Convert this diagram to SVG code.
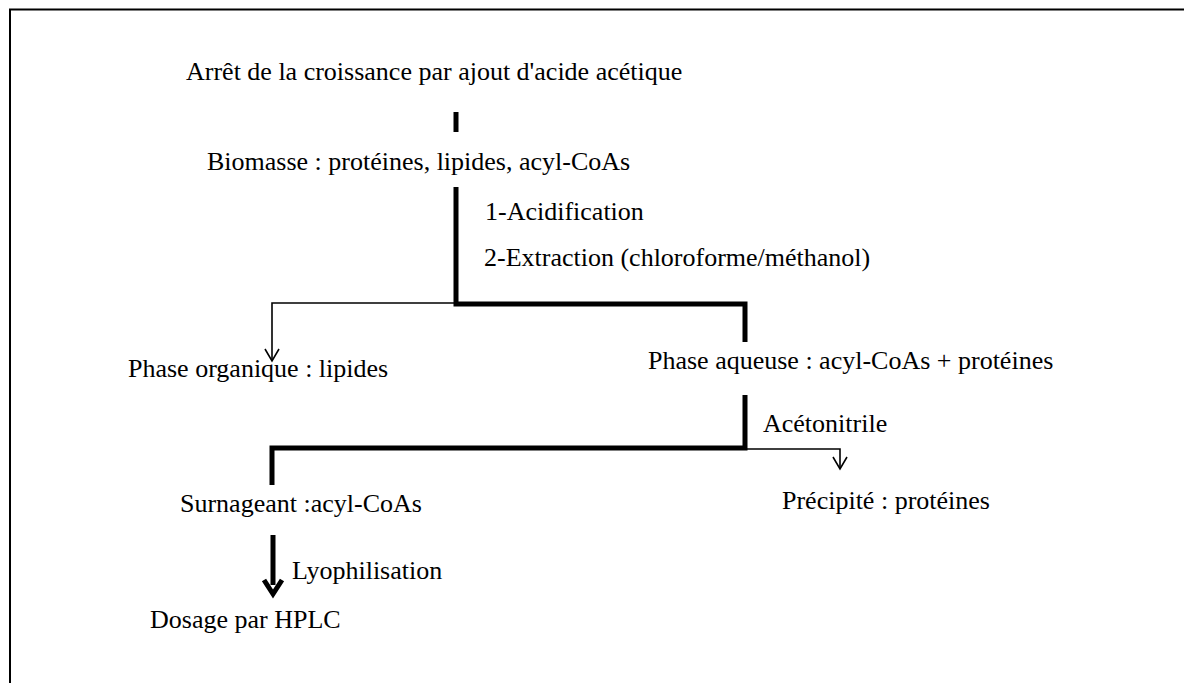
<svg xmlns="http://www.w3.org/2000/svg" width="1184" height="683" viewBox="0 0 1184 683">
<defs>
<style>
text{font-family:"Liberation Serif","Times New Roman",serif;font-size:26px;fill:#000}
.thick{fill:none;stroke:#000;stroke-width:5}
.thin{fill:none;stroke:#000;stroke-width:1.6}
</style>
<marker id="open" markerWidth="16" markerHeight="16" refX="14" refY="8" orient="auto" markerUnits="userSpaceOnUse" viewBox="0 0 16 16">
<path d="M2 1 L14 8 L2 15" fill="none" stroke="#000" stroke-width="1.6"/>
</marker>
</defs>
<rect width="1184" height="683" fill="#fff"/>
<path d="M10 683 V9.5 H1184" fill="none" stroke="#000" stroke-width="2"/>
<g id="connectors">
<line class="thick" x1="456" y1="112" x2="456" y2="132"/>
<path class="thick" d="M456 187 V304 H745 V342"/>
<path class="thin" d="M456 303 H272 V361" marker-end="url(#open)"/>
<path class="thick" d="M745 395 V448 H272 V485"/>
<path class="thin" d="M745 449 H840 V469" marker-end="url(#open)"/>
<line class="thick" x1="273" y1="535" x2="273" y2="585"/>
<path d="M264 580 L273 594 L282 580" fill="none" stroke="#000" stroke-width="5"/>
</g>
<g id="n-arret"><text x="186" y="80">Arrêt de la croissance par ajout d'acide acétique</text></g>
<g id="n-biomasse"><text x="207" y="170">Biomasse : protéines, lipides, acyl-CoAs</text></g>
<g id="l-acid"><text x="485" y="220">1-Acidification</text><text x="484" y="266">2-Extraction (chloroforme/méthanol)</text></g>
<g id="n-organique"><text x="128" y="377">Phase organique : lipides</text></g>
<g id="n-aqueuse"><text x="648" y="369">Phase aqueuse : acyl-CoAs + protéines</text></g>
<g id="l-aceto"><text x="763" y="432">Acétonitrile</text></g>
<g id="n-surnageant"><text x="180" y="512">Surnageant :acyl-CoAs</text></g>
<g id="n-precipite"><text x="782" y="509">Précipité : protéines</text></g>
<g id="l-lyo"><text x="292" y="579">Lyophilisation</text></g>
<g id="n-dosage"><text x="150" y="628">Dosage par HPLC</text></g>
</svg>
